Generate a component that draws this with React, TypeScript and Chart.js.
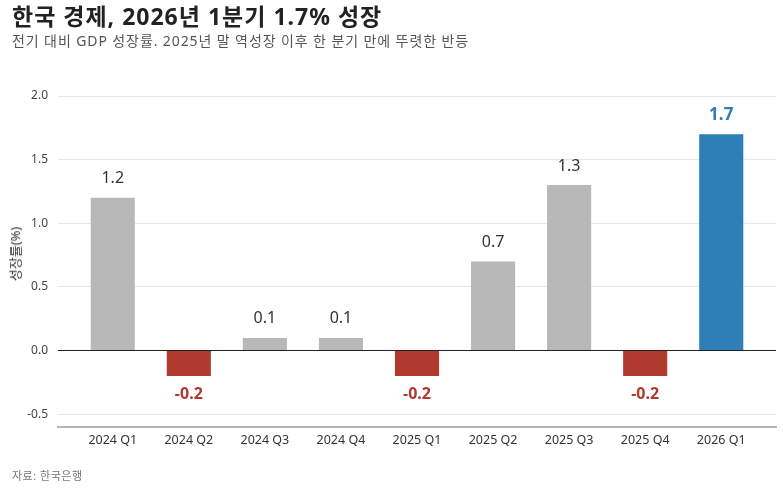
import React, { useEffect, useRef } from "react";
import { Chart, registerables } from "chart.js";

Chart.register(...registerables);

const categories = ["2024 Q1", "2024 Q2", "2024 Q3", "2024 Q4", "2025 Q1", "2025 Q2", "2025 Q3", "2025 Q4", "2026 Q1"];
const growth = [1.2, -0.2, 0.1, 0.1, -0.2, 0.7, 1.3, -0.2, 1.7];
const yTicks = [-0.5, 0, 0.5, 1.0, 1.5, 2.0];

const TITLE = "한국 경제, 2026년 1분기 1.7% 성장";
const SUBTITLE = "전기 대비 GDP 성장률. 2025년 말 역성장 이후 한 분기 만에 뚜렷한 반등";
const SOURCE = "자료: 한국은행";
const Y_TITLE = "성장률(%)";

const FONT = '"Noto Sans", "Noto Sans CJK KR", sans-serif';
const GRAY = "#b8b8b8";
const RED = "#b03a2e";
const BLUE = "#2e7fb8";

const barColor = (v: number, i: number) =>
  i === growth.length - 1 ? BLUE : v < 0 ? RED : GRAY;

const labelPlugin = {
  id: "valueLabels",
  afterDatasetsDraw(chart: any) {
    const ctx = chart.ctx;
    const meta = chart.getDatasetMeta(0);
    ctx.save();
    ctx.textAlign = "center";
    ctx.textBaseline = "middle";
    meta.data.forEach((bar: any, i: number) => {
      const v = growth[i];
      const last = i === growth.length - 1;
      const txt = v.toFixed(1);
      if (last) {
        ctx.font = `bold 17px ${FONT}`;
        ctx.fillStyle = BLUE;
        ctx.fillText(txt, bar.x, bar.y - 19);
      } else if (v < 0) {
        ctx.font = `bold 16px ${FONT}`;
        ctx.fillStyle = RED;
        ctx.fillText(txt, bar.x, bar.y + 18);
      } else {
        ctx.font = `16px ${FONT}`;
        ctx.fillStyle = "#333";
        ctx.fillText(txt, bar.x, bar.y - 19);
      }
    });
    ctx.restore();
  },
};

export default function App() {
  const ref = useRef<HTMLCanvasElement>(null);
  useEffect(() => {
    if (!ref.current) return;
    const chart = new Chart(ref.current, {
      type: "bar",
      data: {
        datasets: [
          {
            data: growth.map((v, i) => ({ x: i, y: v })),
            backgroundColor: growth.map(barColor),
            barPercentage: 0.58,
            categoryPercentage: 1,
          },
        ],
      },
      options: {
        responsive: false,
        animation: false,
        layout: { padding: { top: 96, bottom: 34, left: 0, right: 7 } },
        plugins: { legend: { display: false }, tooltip: { enabled: false } },
        scales: {
          x: {
            type: "linear",
            offset: false,
            min: -0.72,
            max: categories.length - 1 + 0.72,
            afterBuildTicks: (scale: any) => {
              scale.ticks = categories.map((_, i) => ({ value: i }));
            },
            afterFit: (scale: any) => {
              scale.height = 30;
            },
            grid: { display: false, drawTicks: false, offset: false },
            border: { display: true, color: "#b5b5b5", width: 2 },
            ticks: {
              padding: 6,
              color: "#333",
              font: { family: FONT, size: 12.5 },
              callback: (v: any) => categories[Math.round(Number(v))] ?? "",
              maxRotation: 0,
              autoSkip: false,
            },
          },
          y: {
            min: -0.6,
            max: 2.0,
            afterBuildTicks: (scale: any) => {
              scale.ticks = yTicks.map((v) => ({ value: v }));
            },
            afterFit: (scale: any) => {
              scale.width = 58;
            },
            border: { display: false },
            grid: {
              drawTicks: false,
              color: (c: any) => (c.tick && c.tick.value === 0 ? "#222" : "#e6e6e6"),
              lineWidth: 1,
            },
            ticks: {
              padding: 10,
              color: "#444",
              font: { family: FONT, size: 12 },
              callback: (v: any) => Number(v).toFixed(1),
            },
          },
        },
      },
      plugins: [labelPlugin],
    });
    return () => chart.destroy();
  }, []);

  return (
    <div style={{ position: "absolute", left: 0, top: 0, width: 783, height: 491, background: "#fff", fontFamily: FONT }}>
      <canvas ref={ref} width={783} height={491} style={{ display: "block", position: "absolute", left: 0, top: 0 }} />
      <div style={{ position: "absolute", left: 12, top: 2, fontSize: 23, lineHeight: "29px", fontWeight: 700, color: "#222", whiteSpace: "nowrap", letterSpacing: "1px" }}>
        {TITLE}
      </div>
      <div style={{ position: "absolute", left: 12, top: 32, fontSize: 14, lineHeight: "18px", color: "#555", whiteSpace: "nowrap", letterSpacing: "0.9px" }}>
        {SUBTITLE}
      </div>
      <div
        style={{
          position: "absolute",
          left: 15,
          top: 254,
          transform: "translate(-50%, -50%) rotate(-90deg)",
          fontSize: 13,
          lineHeight: "16px",
          color: "#333",
          whiteSpace: "nowrap",
        }}
      >
        {Y_TITLE}
      </div>
      <div style={{ position: "absolute", left: 12, top: 468, fontSize: 11, lineHeight: "15px", color: "#777", whiteSpace: "nowrap", letterSpacing: "0.5px" }}>
        {SOURCE}
      </div>
    </div>
  );
}
